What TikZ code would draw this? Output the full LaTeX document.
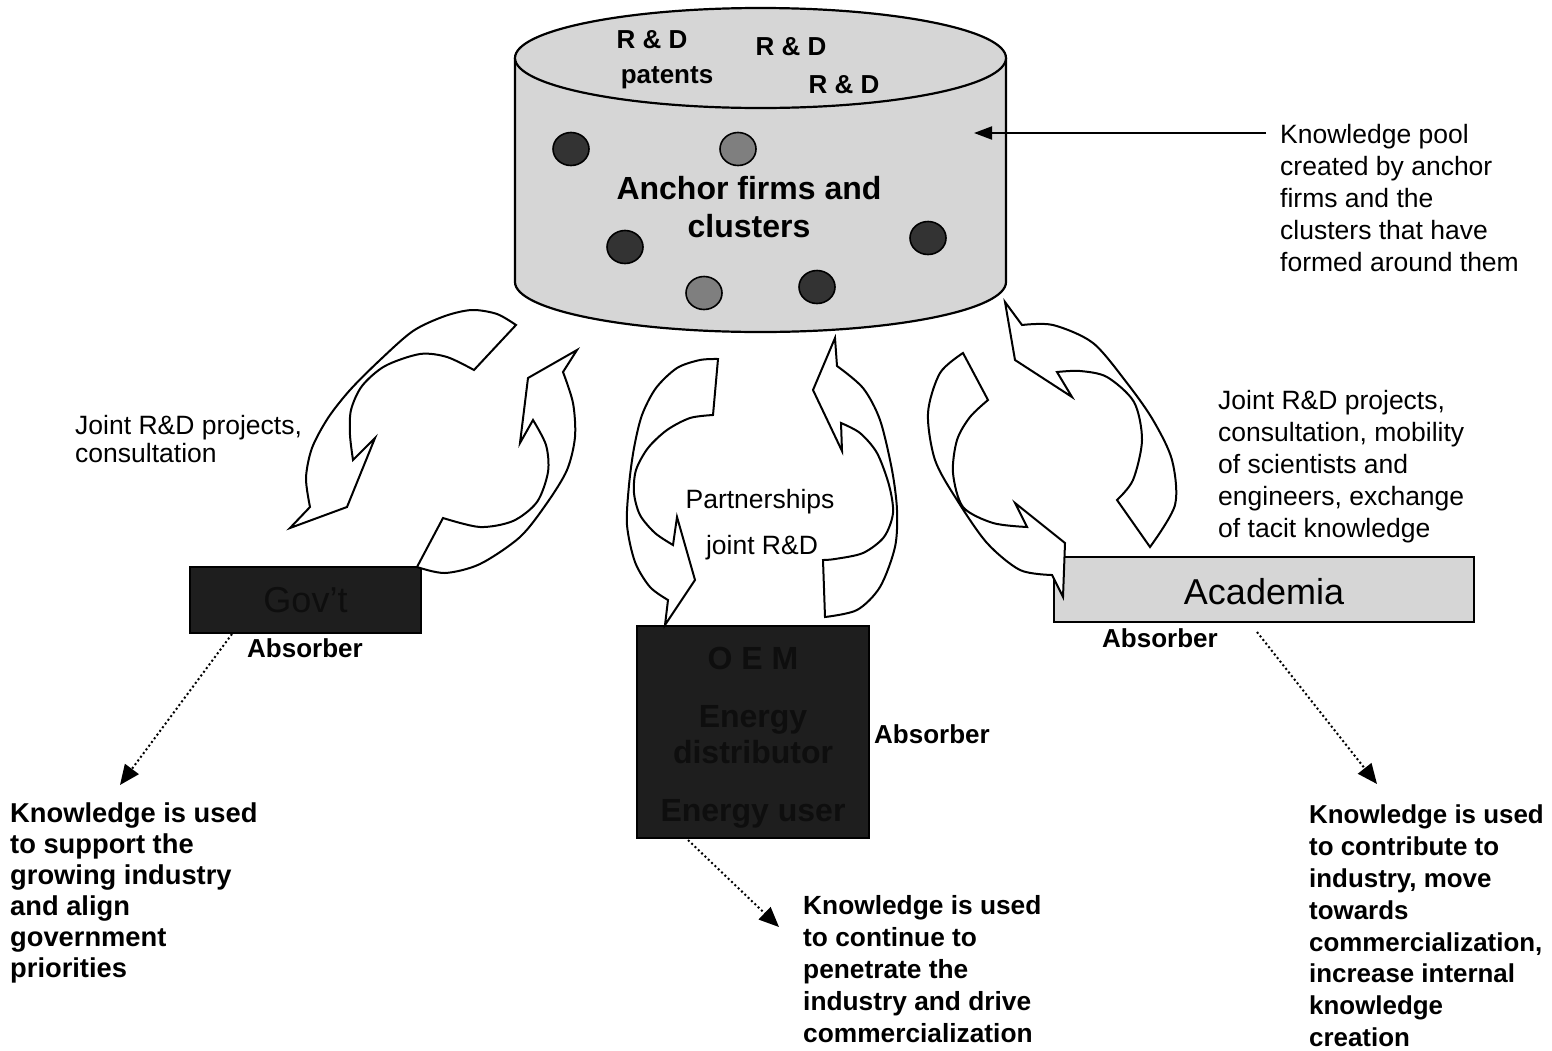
\documentclass[tikz,border=0pt]{standalone}
\usepackage{fontspec}
\setmainfont{Liberation Sans}
\usetikzlibrary{arrows.meta}

\definecolor{poolgray}{HTML}{D6D6D6}
\definecolor{dotdark}{HTML}{333333}
\definecolor{dotmid}{HTML}{7F7F7F}
\definecolor{boxdark}{HTML}{1E1E1E}
\definecolor{boxtext}{HTML}{0E0E0E}

\begin{document}
\begin{tikzpicture}[x=1pt,y=-1pt,
  outline/.style={draw=black, line width=2.2pt},
  bandarrow/.style={draw=black, fill=white, line width=2pt, line join=miter},
  clusterdot/.style={draw=black, line width=1.6pt},
  darkbox/.style={draw=black, fill=boxdark, text=boxtext, line width=2pt,
    inner sep=0pt, outer sep=0pt, align=center},
  lightbox/.style={draw=black, fill=poolgray, line width=2pt,
    inner sep=0pt, outer sep=0pt, font=\fontsize{36pt}{40pt}\selectfont},
  headline/.style={font=\fontsize{32pt}{38pt}\selectfont\bfseries, align=center, inner sep=0pt},
  tag/.style={font=\fontsize{26pt}{31pt}\selectfont\bfseries, inner sep=0pt},
  note/.style={align=left, anchor=north west, inner sep=0pt},
  remark/.style={font=\fontsize{26.5pt}{32pt}\selectfont, align=left,
    anchor=north west, inner sep=0pt},
  flow/.style={font=\fontsize{26.5pt}{31pt}\selectfont, inner sep=0pt},
  usage/.style={line width=2pt, dash pattern=on 2pt off 2.6pt,
    -{Triangle[length=20pt,width=17pt]}},
  pointer/.style={line width=2pt, -{Triangle[length=18pt,width=13pt]}}
]
\path[use as bounding box, fill=white] (0,0) rectangle (1552,1050);

% ---- knowledge pool cylinder ----
\fill[poolgray] (515,58) -- (515,282)
  arc[start angle=180, end angle=0, x radius=245.5, y radius=50] -- (1006,58) -- cycle;
\draw[outline] (515,58) -- (515,282)
  arc[start angle=180, end angle=0, x radius=245.5, y radius=50] -- (1006,58);
\draw[outline, fill=poolgray] (760.5,58) ellipse[x radius=245.5, y radius=50];

% firms inside the pool
\draw[clusterdot, fill=dotdark] (571,149) ellipse[x radius=18, y radius=16.5];
\draw[clusterdot, fill=dotmid]  (738,149) ellipse[x radius=18, y radius=16.5];
\draw[clusterdot, fill=dotdark] (625,247) ellipse[x radius=18, y radius=16.5];
\draw[clusterdot, fill=dotdark] (928,238) ellipse[x radius=18, y radius=16.5];
\draw[clusterdot, fill=dotmid]  (704,293) ellipse[x radius=18, y radius=16.5];
\draw[clusterdot, fill=dotdark] (817,287) ellipse[x radius=18, y radius=16.5];

\node[tag] (rd1) at (652,40) {R \& D};
\node[tag] (rd2) at (791,47) {R \& D};
\node[tag] (pat) at (667,78) {patents};
\node[tag] (rd3) at (844,85) {R \& D};
\node[headline] (anchor) at (749,207) {Anchor firms and\\clusters};

% ---- pool description ----
\node[remark] (pooltext) at (1280,124) {Knowledge pool\\created by anchor\\firms and the\\clusters that have\\formed around them};
\coordinate (poolstart) at (1266,133);
\coordinate (poolpoint) at (974,133);
\draw[pointer] (poolstart) -- (poolpoint);

% ---- absorbers ----
\node[darkbox, minimum width=231pt, minimum height=66pt,
  font=\fontsize{36pt}{40pt}\selectfont] (gov) at (305.5,600) {Gov’t};
\node[darkbox, minimum width=232pt, minimum height=212pt] (oem) at (753,732) {};
\node[text=boxtext, align=center, inner sep=0pt,
  font=\fontsize{32pt}{36pt}\selectfont\bfseries] (oemtext) at (753,738)
  {O E M\\[22pt]Energy\\distributor\\[22pt]Energy user};
\node[lightbox, minimum width=420pt, minimum height=65pt] (acad) at (1264,589.5) {};
\node[font=\fontsize{36pt}{40pt}\selectfont, inner sep=0pt] (acadtext) at (1264,592) {Academia};

\node[tag] (absgov)  at (305,648) {Absorber};
\node[tag] (absoem)  at (932,734) {Absorber};
\node[tag] (absacad) at (1160,638) {Absorber};

% ---- circular exchange arrows: government ----
\draw[bandarrow] (516,325) -- (474,370)
  -- plot[smooth] coordinates {(474,370) (447,357) (420,354) (385,366) (362,386) (351,410) (350,435) (353,460)}
  -- (375,438) -- (347,507) -- (290,528) -- (310,507)
  -- plot[smooth] coordinates {(310,507) (306,478) (312,448) (328,418) (350,390) (380,360) (413,331) (445,316) (472,310) (497,314) (516,325)}
  -- cycle;
\draw[bandarrow] (417,567) -- (443,518)
  -- plot[smooth] coordinates {(443,518) (480,527) (513,521) (537,502) (548,472) (546,445) (533,420)}
  -- (520,443) -- (528,378) -- (577,350) -- (563,372)
  -- plot[smooth] coordinates {(563,372) (573,403) (575,437) (567,470) (547,503) (520,537) (480,564) (445,573) (417,567)}
  -- cycle;

% ---- circular exchange arrows: OEM / energy ----
\draw[bandarrow] (718,359) -- (713,415)
  -- plot[smooth] coordinates {(713,415) (690,418) (667,430) (648,448) (636,470) (634,493) (640,515) (655,533) (673,545)}
  -- (677,517) -- (695,580) -- (665,625) -- (668,600)
  -- plot[smooth] coordinates {(668,600) (650,587) (635,562) (627,525) (629,485) (634,448) (642,415) (656,388) (677,368) (700,360) (718,359)}
  -- cycle;
\draw[bandarrow] (835,338) -- (813,390) -- (842,451) -- (841,423)
  -- plot[smooth] coordinates {(841,423) (860,433) (877,453) (889,485) (893,513) (884,537) (863,553) (835,559) (823,560)}
  -- (825,617)
  -- plot[smooth] coordinates {(825,617) (857,610) (880,587) (895,547) (897,510) (892,470) (880,420) (863,388) (837,366)}
  -- cycle;

% ---- circular exchange arrows: academia ----
\draw[bandarrow] (1005,302) -- (1022,325)
  -- plot[smooth] coordinates {(1022,325) (1053,325) (1093,343) (1127,383) (1153,420) (1172,460) (1175,505) (1150,547)}
  -- (1117,500)
  -- plot[smooth] coordinates {(1117,500) (1133,480) (1142,440) (1134,402) (1107,377) (1080,371) (1057,372)}
  -- (1072,397) -- (1015,360) -- cycle;
\draw[bandarrow] (963,353) -- (988,400)
  -- plot[smooth] coordinates {(988,400) (970,417) (957,440) (953,473) (963,507) (993,523) (1027,527)}
  -- (1015,503) -- (1065,543) -- (1063,597) -- (1052,575)
  -- plot[smooth] coordinates {(1052,575) (1020,570) (987,543) (957,500) (935,460) (928,413) (940,373) (963,353)}
  -- cycle;

% ---- exchange labels ----
\node[remark, font=\fontsize{26.5pt}{28pt}\selectfont] (govflow) at (75,415) {Joint R\&D projects,\\consultation};
\node[flow] (partner) at (760,502) {Partnerships};
\node[flow] (jointrd) at (762,548) {joint R\&D};
\node[remark] (acadflow) at (1218,390) {Joint R\&D projects,\\consultation, mobility\\of scientists and\\engineers, exchange\\of tacit knowledge};

% ---- how the knowledge is used ----
\node[note, font=\fontsize{27.3pt}{31pt}\selectfont\bfseries] (usegov) at (10,803)
  {Knowledge is used\\to support the\\growing industry\\and align\\government\\priorities};
\node[note, font=\fontsize{26.3pt}{32pt}\selectfont\bfseries] (useoem) at (803,895)
  {Knowledge is used\\to continue to\\penetrate the\\industry and drive\\commercialization};
\node[note, font=\fontsize{25.9pt}{31.8pt}\selectfont\bfseries] (useacad) at (1309,805)
  {Knowledge is used\\to contribute to\\industry, move\\towards\\commercialization,\\increase internal\\knowledge\\creation};

\coordinate (govfoot)  at (232,634);
\coordinate (govtip)   at (120,785);
\coordinate (oemfoot)  at (688,840);
\coordinate (oemtip)   at (779,927);
\coordinate (acadfoot) at (1257,632);
\coordinate (acadtip)  at (1377,784);
\draw[usage] (govfoot) -- (govtip);
\draw[usage] (oemfoot) -- (oemtip);
\draw[usage] (acadfoot) -- (acadtip);
\end{tikzpicture}
\end{document}
